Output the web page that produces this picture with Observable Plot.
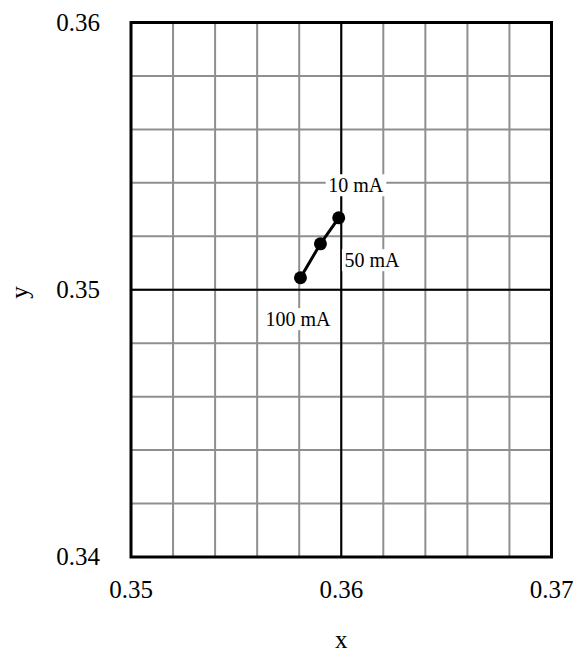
<!DOCTYPE html>
<html>
<head>
<meta charset="utf-8">
<script src="https://cdn.jsdelivr.net/npm/d3@7"></script>
<script src="https://cdn.jsdelivr.net/npm/@observablehq/plot@0.6"></script>
<style>
  html, body { margin: 0; padding: 0; background: #fff; }
</style>
</head>
<body>
<div id="chart"></div>
<script>
// Chromaticity coordinates measured at three drive currents
const currents = ["100 mA", "50 mA", "10 mA"];
const cieX = [0.35806, 0.35901, 0.35988];
const cieY = [0.35045, 0.35172, 0.35269];

// Axis ticks and grid
const xTicks = [0.35, 0.36, 0.37];
const yTicks = [0.34, 0.35, 0.36];
const xGrid = [0.352, 0.354, 0.356, 0.358, 0.36, 0.362, 0.364, 0.366, 0.368];
const yGrid = [0.342, 0.344, 0.346, 0.348, 0.35, 0.352, 0.354, 0.356, 0.358];

const points = currents.map((c, i) => ({current: c, x: cieX[i], y: cieY[i]}));

// Where each current label sits relative to its point
const labelPlacement = {
  "100 mA": {dx: -2.5, dy: 42, textAnchor: "middle"},
  "50 mA": {dx: 24, dy: 17, textAnchor: "start"},
  "10 mA": {dx: 17, dy: -32, textAnchor: "middle"}
};

const font = "'Liberation Serif', 'Times New Roman', serif";

const chart = Plot.plot({
  width: 573,
  height: 657,
  marginLeft: 130.5,
  marginRight: 22,
  marginTop: 22,
  marginBottom: 100.5,
  style: {fontFamily: font, fontSize: "25px", background: "#fff", color: "#000"},
  x: {domain: [0.35, 0.37]},
  y: {domain: [0.34, 0.36]},
  marks: [
    Plot.ruleX(xGrid, {x: d => d, stroke: "#8f8f8f", strokeWidth: 2}),
    Plot.ruleY(yGrid, {y: d => d, stroke: "#8f8f8f", strokeWidth: 2}),
    Plot.ruleX([0.36], {x: d => d, stroke: "#000", strokeWidth: 2}),
    Plot.ruleY([0.35], {y: d => d, stroke: "#000", strokeWidth: 2}),
    Plot.frame({stroke: "#000", strokeWidth: 3}),
    Plot.axisX({ticks: xTicks, tickSize: 0, tickPadding: 23, tickFormat: ".2f", label: null, fontSize: 25}),
    Plot.axisY({ticks: yTicks, tickSize: 0, tickPadding: 31, tickFormat: ".2f", label: null, fontSize: 25}),
    Plot.text(["x"], {text: d => d, frameAnchor: "bottom", dy: 90.5, fontSize: 25}),
    Plot.text(["y"], {text: d => d, frameAnchor: "left", rotate: -90, dx: -111, dy: 9, fontSize: 25}),
    Plot.line(points, {x: "x", y: "y", stroke: "#000", strokeWidth: 3}),
    Plot.dot(points, {x: "x", y: "y", r: 6.5, fill: "#000"}),
    ...points.map(p => Plot.text([p], {
      x: "x", y: "y", text: "current", fontSize: 20, fill: "#000",
      ...labelPlacement[p.current]
    }))
  ]
});

document.getElementById("chart").appendChild(chart);

// Give the current labels an opaque white box so the grid breaks around them
chart.querySelectorAll('g[aria-label="text"] text').forEach(t => {
  if (!/mA$/.test(t.textContent)) return;
  const b = t.getBBox();
  const r = document.createElementNS("http://www.w3.org/2000/svg", "rect");
  r.setAttribute("x", b.x - 2.5);
  r.setAttribute("y", b.y);
  r.setAttribute("width", b.width + 5);
  r.setAttribute("height", b.height);
  r.setAttribute("fill", "#fff");
  r.setAttribute("stroke", "none");
  const tr = t.getAttribute("transform");
  if (tr) r.setAttribute("transform", tr);
  t.parentNode.insertBefore(r, t);
});
</script>
</body>
</html>
